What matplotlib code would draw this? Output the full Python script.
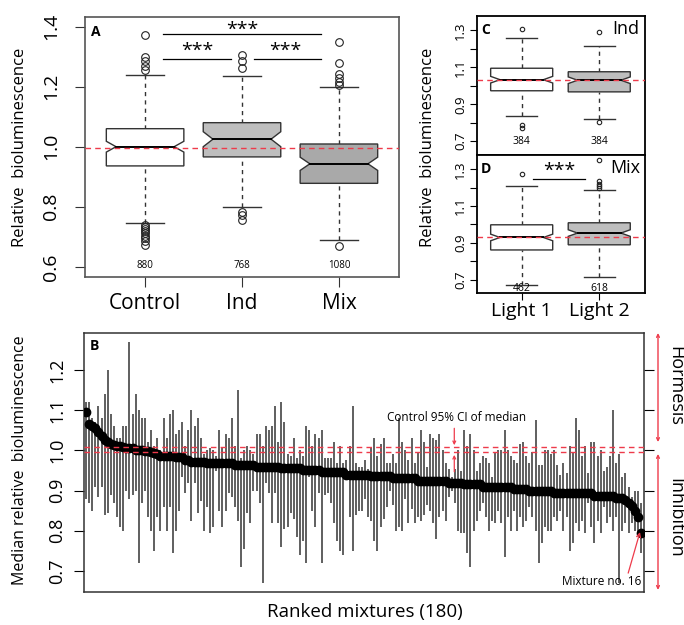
import numpy as np
import matplotlib.pyplot as plt
from matplotlib.patches import Polygon

plt.rcParams['font.family'] = ['Open Sans', 'DejaVu Sans']

RED = '#ee3b4b'
EDGE = '#333333'

# --------------------------------------------------
# Panel A: relative bioluminescence per treatment
# --------------------------------------------------
groups_a = ["Control", "Ind", "Mix"]
counts_a = [880, 768, 1080]
q1_a = [0.936, 0.966, 0.878]
med_a = [1.000, 1.025, 0.943]
q3_a = [1.060, 1.080, 1.009]
notch_a = [0.018, 0.025, 0.022]
wlo_a = [0.747, 0.800, 0.689]
whi_a = [1.238, 1.236, 1.200]
out_a = [
    [1.371, 1.299, 1.284, 1.269, 1.256, 0.740, 0.733, 0.725, 0.718, 0.711, 0.703, 0.695, 0.685, 0.672],
    [1.306, 1.284, 1.262, 0.784, 0.774, 0.757],
    [1.349, 1.280, 1.242, 1.228, 1.217, 1.206, 0.669],
]
fill_a = ["white", "#bebebe", "#a9a9a9"]
ref_a = 0.997

# --------------------------------------------------
# Panels C / D: light 1 vs light 2
# --------------------------------------------------
groups_cd = ["Light 1", "Light 2"]
fill_cd = ["white", "#bebebe"]

counts_c = [384, 384]
q1_c = [0.973, 0.967]
med_c = [1.033, 1.030]
q3_c = [1.095, 1.076]
wlo_c = [0.836, 0.822]
whi_c = [1.260, 1.215]
out_c = [[1.309, 0.785, 0.771], [1.291, 0.806]]
ref_c = 1.033

counts_d = [462, 618]
q1_d = [0.861, 0.889]
med_d = [0.929, 0.953]
q3_d = [0.998, 1.009]
wlo_d = [0.671, 0.712]
whi_d = [1.209, 1.186]
out_d = [[1.276], [1.349, 1.237, 1.219, 1.210, 1.197]]
ref_d = 0.929

# --------------------------------------------------
# Panel B: ranked mixtures, median and range
# --------------------------------------------------
med_b = [
    1.096, 1.066, 1.062, 1.055, 1.045, 1.035, 1.027, 1.021, 1.017, 1.013,
    1.010, 1.010, 1.008, 1.005, 1.005, 1.005, 1.000, 1.000, 1.000, 0.999,
    0.998, 0.995, 0.993, 0.990, 0.987, 0.987, 0.987, 0.987, 0.987, 0.984,
    0.984, 0.984, 0.977, 0.977, 0.972, 0.972, 0.972, 0.972, 0.972, 0.968,
    0.968, 0.968, 0.968, 0.968, 0.968, 0.968, 0.968, 0.968, 0.964, 0.964,
    0.964, 0.964, 0.964, 0.964, 0.964, 0.960, 0.960, 0.960, 0.960, 0.960,
    0.960, 0.960, 0.960, 0.956, 0.956, 0.956, 0.956, 0.956, 0.956, 0.956,
    0.951, 0.951, 0.951, 0.951, 0.951, 0.951, 0.946, 0.946, 0.946, 0.946,
    0.946, 0.946, 0.946, 0.946, 0.940, 0.940, 0.940, 0.940, 0.940, 0.940,
    0.940, 0.940, 0.937, 0.937, 0.937, 0.937, 0.937, 0.937, 0.937, 0.931,
    0.931, 0.931, 0.931, 0.931, 0.931, 0.931, 0.931, 0.925, 0.925, 0.925,
    0.925, 0.925, 0.925, 0.925, 0.925, 0.925, 0.925, 0.920, 0.920, 0.920,
    0.920, 0.920, 0.916, 0.916, 0.916, 0.916, 0.916, 0.916, 0.910, 0.910,
    0.910, 0.910, 0.910, 0.910, 0.910, 0.910, 0.910, 0.910, 0.903, 0.903,
    0.903, 0.903, 0.903, 0.898, 0.898, 0.898, 0.898, 0.898, 0.898, 0.898,
    0.898, 0.893, 0.893, 0.893, 0.893, 0.893, 0.893, 0.893, 0.893, 0.893,
    0.893, 0.893, 0.893, 0.893, 0.887, 0.887, 0.887, 0.887, 0.887, 0.887,
    0.887, 0.881, 0.881, 0.881, 0.876, 0.869, 0.861, 0.850, 0.834, 0.795,
]
hi_b = [
    1.12, 1.12, 1.08, 1.07, 1.11, 1.08, 1.14, 1.20, 1.09, 1.06,
    1.03, 1.03, 1.06, 1.06, 1.27, 1.09, 1.14, 1.10, 1.08, 1.08,
    1.02, 1.05, 1.01, 1.03, 1.00, 1.08, 1.03, 1.09, 1.10, 1.04,
    1.05, 1.07, 1.01, 1.05, 1.10, 1.06, 1.08, 1.03, 0.99, 1.00,
    1.005, 1.00, 0.985, 1.05, 1.005, 1.04, 1.03, 1.08, 1.01, 1.15,
    0.98, 1.00, 1.01, 1.00, 0.99, 1.04, 1.04, 1.01, 1.06, 1.05,
    1.06, 1.11, 1.02, 1.12, 1.07, 0.99, 0.985, 1.03, 0.98, 1.00,
    0.985, 1.06, 1.05, 1.01, 1.04, 1.03, 1.05, 0.98, 0.98, 0.98,
    1.02, 0.97, 1.01, 0.97, 0.975, 1.01, 1.11, 0.97, 0.96, 0.96,
    0.975, 0.955, 1.005, 1.03, 0.985, 1.015, 1.03, 0.97, 0.97, 0.99,
    0.97, 1.08, 1.02, 1.00, 0.975, 1.03, 0.97, 0.995, 1.05, 1.02,
    0.96, 1.04, 1.03, 1.025, 1.04, 1.00, 0.97, 0.955, 0.935, 0.955,
    1.00, 0.95, 1.05, 1.01, 1.04, 1.00, 0.95, 0.97, 0.985, 0.98,
    0.97, 0.935, 0.995, 1.00, 1.00, 1.05, 1.00, 0.985, 0.975, 0.97,
    1.015, 1.02, 0.985, 0.97, 0.995, 1.075, 0.965, 0.965, 1.00, 1.00,
    0.99, 1.00, 0.965, 0.94, 0.97, 0.945, 1.01, 0.995, 1.08, 1.05,
    0.985, 1.01, 0.945, 1.02, 1.02, 0.985, 1.00, 0.95, 0.96, 0.985,
    1.10, 0.97, 0.99, 0.935, 0.945, 0.91, 0.885, 0.90, 0.90, 0.87,
]
lo_b = [
    0.88, 0.87, 0.85, 0.91, 0.885, 0.91, 0.84, 0.845, 0.89, 0.87,
    0.835, 0.81, 0.80, 0.90, 0.88, 0.89, 0.90, 0.72, 0.87, 0.90,
    0.835, 0.80, 0.75, 0.835, 0.80, 0.86, 0.80, 0.86, 0.745, 0.80,
    0.85, 0.935, 0.895, 0.92, 0.825, 0.92, 0.845, 0.875, 0.80, 0.86,
    0.795, 0.81, 0.95, 0.85, 0.81, 0.85, 0.895, 0.885, 0.86, 0.825,
    0.71, 0.755, 0.845, 0.82, 0.90, 0.90, 0.87, 0.67, 0.92, 0.895,
    0.82, 0.895, 0.82, 0.76, 0.805, 0.81, 0.845, 0.83, 0.785, 0.74,
    0.775, 0.72, 0.935, 0.85, 0.81, 0.895, 0.72, 0.89, 0.895, 0.87,
    0.82, 0.775, 0.75, 0.74, 0.935, 0.835, 0.75, 0.84, 0.85, 0.85,
    0.88, 0.835, 0.825, 0.775, 0.75, 0.81, 0.83, 0.86, 0.90, 0.865,
    0.80, 0.81, 0.80, 0.88, 0.82, 0.855, 0.82, 0.835, 0.825, 0.84,
    0.865, 0.85, 0.82, 0.78, 0.835, 0.85, 0.825, 0.885, 0.90, 0.87,
    0.80, 0.795, 0.795, 0.745, 0.71, 0.80, 0.825, 0.85, 0.87, 0.835,
    0.80, 0.825, 0.82, 0.85, 0.82, 0.735, 0.835, 0.80, 0.85, 0.80,
    0.835, 0.81, 0.825, 0.86, 0.835, 0.80, 0.72, 0.77, 0.81, 0.80,
    0.80, 0.835, 0.825, 0.85, 0.80, 0.835, 0.75, 0.77, 0.82, 0.80,
    0.825, 0.795, 0.87, 0.81, 0.77, 0.825, 0.795, 0.86, 0.82, 0.835,
    0.80, 0.835, 0.67, 0.80, 0.82, 0.795, 0.82, 0.80, 0.795, 0.745,
]
ci_b = [0.995, 1.009]  # control 95% CI of median


def notched_box(ax, x, q1, med, q3, notch, indent, half, fill):
    pts = [(x - half, q1), (x - half, med - notch), (x - half + indent, med),
           (x - half, med + notch), (x - half, q3), (x + half, q3),
           (x + half, med + notch), (x + half - indent, med),
           (x + half, med - notch), (x + half, q1)]
    ax.add_patch(Polygon(pts, closed=True, facecolor=fill, edgecolor=EDGE,
                         lw=1.0, zorder=2))
    ax.plot([x - half + indent, x + half - indent], [med, med],
            color='black', lw=1.4, zorder=3)


def whiskers(ax, x, q1, q3, wlo, whi, cap):
    ax.plot([x, x], [q3, whi], ls=(0, (3, 3)), color=EDGE, lw=1.0, zorder=1)
    ax.plot([x, x], [wlo, q1], ls=(0, (3, 3)), color=EDGE, lw=1.0, zorder=1)
    ax.plot([x - cap, x + cap], [whi, whi], color=EDGE, lw=1.0)
    ax.plot([x - cap, x + cap], [wlo, wlo], color=EDGE, lw=1.0)


W, H = 684, 625
fig = plt.figure(figsize=(W / 100, H / 100), dpi=100)


def px_axes(left, top, right, bottom):
    return fig.add_axes([left / W, 1 - bottom / H, (right - left) / W, (bottom - top) / H])


# --------------------------------------------------
# Panel A
# --------------------------------------------------
ax_a = px_axes(85, 16.7, 399, 276.7)
for i in range(3):
    x = i + 1
    whiskers(ax_a, x, q1_a[i], q3_a[i], wlo_a[i], whi_a[i], 0.2)
    notched_box(ax_a, x, q1_a[i], med_a[i], q3_a[i], notch_a[i], 0.1, 0.4, fill_a[i])
    ax_a.plot([x] * len(out_a[i]), out_a[i], 'o', mfc='none', mec='#222222',
              ms=5.5, mew=0.8, zorder=4)
    ax_a.text(x, 0.605, str(counts_a[i]), ha='center', va='center', fontsize=7)
ax_a.axhline(ref_a, color=RED, ls=(0, (4, 3)), lw=1.0, zorder=5)

# significance bars
ax_a.plot([1.184, 2.813], [1.376, 1.376], color='black', lw=0.9)
ax_a.plot([1.184, 1.885], [1.291, 1.291], color='black', lw=0.9)
ax_a.plot([2.122, 2.813], [1.291, 1.291], color='black', lw=0.9)
for sx, sy in [(2.0, 1.399), (1.535, 1.329), (2.442, 1.329)]:
    ax_a.annotate('***', (sx, sy), xytext=(0, -6), textcoords='offset points',
                  ha='center', va='baseline', fontsize=14)

ax_a.set_xlim(0.38, 3.62)
ax_a.set_ylim(0.567, 1.433)
ax_a.set_xticks([1, 2, 3])
ax_a.set_xticklabels(groups_a, fontsize=15)
ax_a.set_yticks([0.6, 0.8, 1.0, 1.2, 1.4])
ax_a.set_yticklabels(["0.6", "0.8", "1.0", "1.2", "1.4"], rotation=90,
                     va='center', fontsize=14)
ax_a.tick_params(axis='x', length=7, pad=5, color=EDGE)
ax_a.tick_params(axis='y', length=7, pad=11, color=EDGE)
for s in ax_a.spines.values():
    s.set_color('#555555')
    s.set_linewidth(1.2)
ax_a.text(0.035, 0.94, "A", transform=ax_a.transAxes, fontsize=10,
          fontweight='bold', ha='center', va='center')

# --------------------------------------------------
# Panels C and D
# --------------------------------------------------
ax_c = px_axes(476.7, 16, 645, 155)
ax_d = px_axes(476.7, 155, 645, 293.3)

panels = [
    (ax_c, counts_c, q1_c, med_c, q3_c, wlo_c, whi_c, out_c, ref_c, 0.700, "C", "Ind"),
    (ax_d, counts_d, q1_d, med_d, q3_d, wlo_d, whi_d, out_d, ref_d, 0.652, "D", "Mix"),
]
for ax, cnt, q1, med, q3, wlo, whi, outs, ref, ny, tag, title in panels:
    for i in range(2):
        x = i + 1
        whiskers(ax, x, q1[i], q3[i], wlo[i], whi[i], 0.2)
        notched_box(ax, x, q1[i], med[i], q3[i], 0.018, 0.12, 0.4, fill_cd[i])
        ax.plot([x] * len(outs[i]), outs[i], 'o', mfc='none', mec='#222222',
                ms=3.2, mew=0.8, zorder=4)
        ax.text(x, ny, str(cnt[i]), ha='center', va='center', fontsize=7.5)
    ax.axhline(ref, color=RED, ls=(0, (4, 3)), lw=1.0, zorder=5)
    ax.set_xlim(0.42, 2.59)
    ax.set_ylim(0.625, 1.378)
    ax.set_yticks([0.7, 0.8, 0.9, 1.0, 1.1, 1.2, 1.3])
    ax.set_yticklabels(["0.7", "", "0.9", "", "1.1", "", "1.3"], rotation=90,
                       va='center', fontsize=9.5)
    ax.tick_params(axis='y', length=5, pad=2)
    ax.set_xticks([1, 2])
    for s in ax.spines.values():
        s.set_linewidth(1.3)
    ax.text(0.055, 0.9, tag, transform=ax.transAxes, fontsize=10,
            fontweight='bold', ha='center', va='center')
    ax.text(0.885, 0.905, title, transform=ax.transAxes, fontsize=13,
            ha='center', va='center')

ax_c.set_xticklabels(["", ""])
ax_c.tick_params(axis='x', length=5)
ax_d.set_xticklabels(groups_cd, fontsize=14)
ax_d.tick_params(axis='x', length=5, pad=1)

ax_d.plot([1.15, 1.816], [1.246, 1.246], color='black', lw=0.9)
ax_d.annotate('***', (1.49, 1.309), xytext=(0, -6), textcoords='offset points',
              ha='center', va='baseline', fontsize=14)

# --------------------------------------------------
# Panel B
# --------------------------------------------------
ax_b = px_axes(84, 333, 644, 592)
rank = np.arange(1, len(med_b) + 1)
ax_b.vlines(rank, lo_b, hi_b, color='#444444', lw=1.2, zorder=1)
ax_b.plot(rank, med_b, 'o', color='black', ms=6, zorder=3)
for c in ci_b:
    ax_b.axhline(c, color=RED, ls=(0, (4, 3)), lw=1.0, zorder=4)

ax_b.set_xlim(0.35, 181)
ax_b.set_ylim(0.648, 1.292)
ax_b.set_xticks([])
ax_b.set_yticks([0.7, 0.8, 0.9, 1.0, 1.1, 1.2])
ax_b.set_yticklabels(["0.7", "0.8", "0.9", "1.0", "1.1", "1.2"], rotation=90,
                     va='center', fontsize=13)
ax_b.tick_params(axis='y', length=7, pad=6, right=True)
for s in ax_b.spines.values():
    s.set_color('#333333')
    s.set_linewidth(1.1)
ax_b.text(0.018, 0.95, "B", transform=ax_b.transAxes, fontsize=10,
          fontweight='bold', ha='center', va='center')

ax_b.text(120.5, 1.083, "Control 95% CI of median", ha='center', va='center',
          fontsize=8.5)
ax_b.annotate('', xy=(119.8, 1.013), xytext=(119.8, 1.055),
              arrowprops=dict(arrowstyle='->', color=RED, lw=0.9,
                              mutation_scale=5, shrinkA=0, shrinkB=0))
ax_b.annotate('', xy=(119.8, 0.989), xytext=(119.8, 0.947),
              arrowprops=dict(arrowstyle='->', color=RED, lw=0.9,
                              mutation_scale=5, shrinkA=0, shrinkB=0))

ax_b.text(167.5, 0.673, "Mixture no. 16", ha='center', va='center', fontsize=8.5)
ax_b.annotate('', xy=(179.7, 0.797), xytext=(175.9, 0.695),
              arrowprops=dict(arrowstyle='->', color=RED, lw=0.9,
                              mutation_scale=7, shrinkA=0, shrinkB=0))

# hormesis / inhibition brackets outside the axes
ax_b.annotate('', xy=(1.025, 1.0), xytext=(1.025, 0.579), xycoords='axes fraction',
              arrowprops=dict(arrowstyle='<->', color=RED, lw=1.0,
                              mutation_scale=5, shrinkA=0, shrinkB=0),
              annotation_clip=False)
ax_b.annotate('', xy=(1.025, 0.533), xytext=(1.025, 0.008), xycoords='axes fraction',
              arrowprops=dict(arrowstyle='<->', color=RED, lw=1.0,
                              mutation_scale=5, shrinkA=0, shrinkB=0),
              annotation_clip=False)
ax_b.text(1.056, 0.795, "Hormesis", transform=ax_b.transAxes, rotation=270,
          ha='center', va='center', fontsize=13)
ax_b.text(1.056, 0.286, "Inhibition", transform=ax_b.transAxes, rotation=270,
          ha='center', va='center', fontsize=13)

# --------------------------------------------------
# Axis titles
# --------------------------------------------------
fig.text(20 / W, 1 - 147.5 / H, "Relative  bioluminescence", rotation=90,
         ha='center', va='center', fontsize=12)
fig.text(428 / W, 1 - 147.5 / H, "Relative  bioluminescence", rotation=90,
         ha='center', va='center', fontsize=12)
fig.text(20.5 / W, 1 - 460 / H, "Median relative  bioluminescence", rotation=90,
         ha='center', va='center', fontsize=11.5)
fig.text(365 / W, 1 - 612 / H, "Ranked mixtures (180)", ha='center',
         va='center', fontsize=13.5)

fig.savefig("out.png", dpi=100)
